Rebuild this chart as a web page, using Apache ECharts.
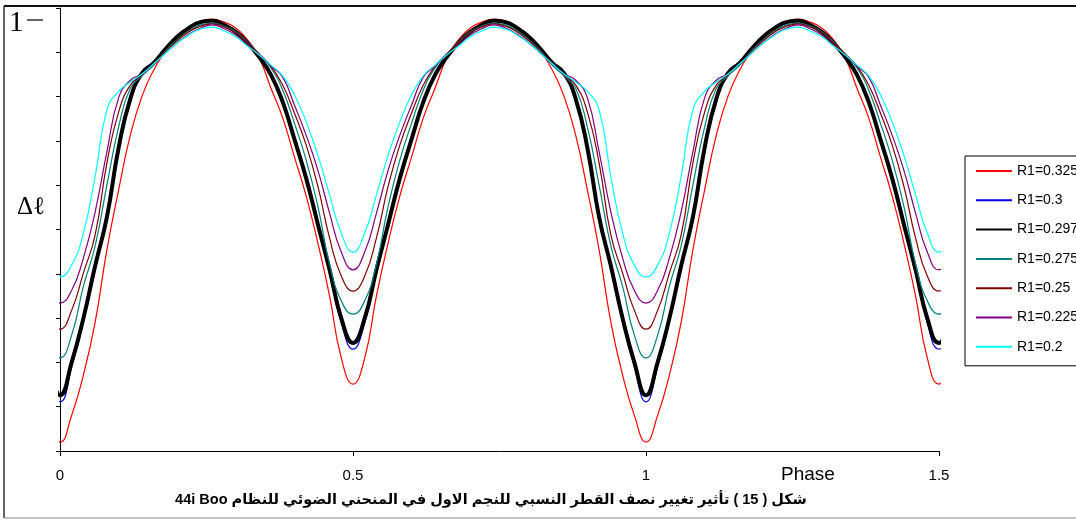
<!DOCTYPE html>
<html>
<head>
<meta charset="utf-8">
<script src="https://cdn.jsdelivr.net/npm/echarts@6/dist/echarts.min.js"></script>
<style>
  html, body { margin: 0; padding: 0; background: #fff; }
  #chart { width: 1076px; height: 521px; }
</style>
</head>
<body>
<div id="chart"></div>
<script>
// Orbital phase of each sample
const phase = [-0.01, 0, 0.02, 0.04, 0.06, 0.08, 0.10, 0.12, 0.14, 0.16, 0.18, 0.20, 0.22, 0.24, 0.26, 0.28, 0.30, 0.32, 0.34, 0.36, 0.38, 0.40, 0.42, 0.44, 0.46, 0.48, 0.50,
  0.52, 0.54, 0.56, 0.58, 0.60, 0.62, 0.64, 0.66, 0.68, 0.70, 0.72, 0.74, 0.76, 0.78, 0.80, 0.82, 0.84, 0.86, 0.88, 0.90, 0.92, 0.94, 0.96, 0.98, 1.00,
  1.02, 1.04, 1.06, 1.08, 1.10, 1.12, 1.14, 1.16, 1.18, 1.20, 1.22, 1.24, 1.26, 1.28, 1.30, 1.32, 1.34, 1.36, 1.38, 1.40, 1.42, 1.44, 1.46, 1.48, 1.50, 1.515];

// Synthetic light curves (relative flux) for each value of R1
const r0325 = [0.038, 0.020, 0.081, 0.172, 0.291, 0.454, 0.589, 0.713, 0.801, 0.860, 0.903, 0.937, 0.957, 0.971, 0.975, 0.968, 0.955, 0.928, 0.887, 0.819, 0.752, 0.664, 0.576, 0.470, 0.350, 0.210, 0.151,
  0.210, 0.350, 0.470, 0.576, 0.664, 0.752, 0.819, 0.887, 0.928, 0.955, 0.968, 0.975, 0.971, 0.957, 0.937, 0.903, 0.860, 0.801, 0.713, 0.589, 0.454, 0.291, 0.172, 0.081, 0.020,
  0.081, 0.172, 0.291, 0.454, 0.589, 0.713, 0.801, 0.860, 0.903, 0.937, 0.957, 0.971, 0.975, 0.968, 0.955, 0.928, 0.887, 0.819, 0.752, 0.664, 0.576, 0.470, 0.350, 0.210, 0.151, 0.176];

const r0300 = [0.124, 0.111, 0.190, 0.293, 0.411, 0.521, 0.677, 0.790, 0.851, 0.876, 0.907, 0.935, 0.955, 0.968, 0.971, 0.962, 0.946, 0.921, 0.889, 0.849, 0.788, 0.704, 0.614, 0.508, 0.402, 0.289, 0.230,
  0.289, 0.402, 0.508, 0.614, 0.704, 0.788, 0.849, 0.889, 0.921, 0.946, 0.962, 0.971, 0.968, 0.955, 0.935, 0.907, 0.876, 0.851, 0.790, 0.677, 0.521, 0.411, 0.293, 0.190, 0.111,
  0.190, 0.293, 0.411, 0.521, 0.677, 0.790, 0.851, 0.876, 0.907, 0.935, 0.955, 0.968, 0.971, 0.962, 0.946, 0.921, 0.889, 0.849, 0.788, 0.704, 0.614, 0.508, 0.402, 0.289, 0.230, 0.251];

const r0297 = [0.147, 0.126, 0.201, 0.300, 0.418, 0.528, 0.684, 0.795, 0.853, 0.876, 0.907, 0.935, 0.955, 0.968, 0.971, 0.962, 0.946, 0.921, 0.889, 0.849, 0.788, 0.704, 0.616, 0.512, 0.409, 0.300, 0.244,
  0.300, 0.409, 0.512, 0.616, 0.704, 0.788, 0.849, 0.889, 0.921, 0.946, 0.962, 0.971, 0.968, 0.955, 0.935, 0.907, 0.876, 0.853, 0.795, 0.684, 0.528, 0.418, 0.300, 0.201, 0.126,
  0.201, 0.300, 0.418, 0.528, 0.684, 0.795, 0.853, 0.876, 0.907, 0.935, 0.955, 0.968, 0.971, 0.962, 0.946, 0.921, 0.889, 0.849, 0.788, 0.704, 0.616, 0.512, 0.409, 0.300, 0.244, 0.273];

const r0275 = [0.226, 0.210, 0.262, 0.372, 0.463, 0.600, 0.731, 0.819, 0.847, 0.871, 0.903, 0.928, 0.948, 0.962, 0.966, 0.959, 0.946, 0.923, 0.896, 0.865, 0.815, 0.740, 0.657, 0.553, 0.422, 0.339, 0.309,
  0.339, 0.422, 0.553, 0.657, 0.740, 0.815, 0.865, 0.896, 0.923, 0.946, 0.959, 0.966, 0.962, 0.948, 0.928, 0.903, 0.871, 0.847, 0.819, 0.731, 0.600, 0.463, 0.372, 0.262, 0.210,
  0.262, 0.372, 0.463, 0.600, 0.731, 0.819, 0.847, 0.871, 0.903, 0.928, 0.948, 0.962, 0.966, 0.959, 0.946, 0.923, 0.896, 0.865, 0.815, 0.740, 0.657, 0.553, 0.422, 0.339, 0.309, 0.334];

const r0250 = [0.289, 0.275, 0.318, 0.402, 0.488, 0.650, 0.765, 0.826, 0.849, 0.874, 0.901, 0.926, 0.946, 0.959, 0.964, 0.957, 0.944, 0.921, 0.896, 0.869, 0.826, 0.763, 0.691, 0.598, 0.481, 0.395, 0.361,
  0.395, 0.481, 0.598, 0.691, 0.763, 0.826, 0.869, 0.896, 0.921, 0.944, 0.957, 0.964, 0.959, 0.946, 0.926, 0.901, 0.874, 0.849, 0.826, 0.765, 0.650, 0.488, 0.402, 0.318, 0.275,
  0.318, 0.402, 0.488, 0.650, 0.765, 0.826, 0.849, 0.874, 0.901, 0.926, 0.946, 0.959, 0.964, 0.957, 0.944, 0.921, 0.896, 0.869, 0.826, 0.763, 0.691, 0.598, 0.481, 0.395, 0.361, 0.381];

const r0225 = [0.348, 0.334, 0.363, 0.436, 0.540, 0.675, 0.797, 0.837, 0.851, 0.874, 0.898, 0.921, 0.941, 0.955, 0.962, 0.953, 0.939, 0.916, 0.894, 0.869, 0.844, 0.781, 0.713, 0.634, 0.537, 0.449, 0.409,
  0.449, 0.537, 0.634, 0.713, 0.781, 0.844, 0.869, 0.894, 0.916, 0.939, 0.953, 0.962, 0.955, 0.941, 0.921, 0.898, 0.874, 0.851, 0.837, 0.797, 0.675, 0.540, 0.436, 0.363, 0.334,
  0.363, 0.436, 0.540, 0.675, 0.797, 0.837, 0.851, 0.874, 0.898, 0.921, 0.941, 0.955, 0.962, 0.953, 0.939, 0.916, 0.894, 0.869, 0.844, 0.781, 0.713, 0.634, 0.537, 0.449, 0.409, 0.427];

const r0200 = [0.404, 0.393, 0.420, 0.492, 0.620, 0.770, 0.812, 0.833, 0.851, 0.874, 0.898, 0.921, 0.939, 0.953, 0.957, 0.948, 0.935, 0.914, 0.894, 0.871, 0.847, 0.804, 0.743, 0.668, 0.578, 0.492, 0.449,
  0.492, 0.578, 0.668, 0.743, 0.804, 0.847, 0.871, 0.894, 0.914, 0.935, 0.948, 0.957, 0.953, 0.939, 0.921, 0.898, 0.874, 0.851, 0.833, 0.812, 0.770, 0.620, 0.492, 0.420, 0.393,
  0.420, 0.492, 0.620, 0.770, 0.812, 0.833, 0.851, 0.874, 0.898, 0.921, 0.939, 0.953, 0.957, 0.948, 0.935, 0.914, 0.894, 0.871, 0.847, 0.804, 0.743, 0.668, 0.578, 0.492, 0.449, 0.470];

const seriesNames = ['R1=0.325', 'R1=0.3', 'R1=0.297', 'R1=0.275', 'R1=0.25', 'R1=0.225', 'R1=0.2'];
const seriesValues = [r0325, r0300, r0297, r0275, r0250, r0225, r0200];
const seriesColors = ['#FF0000', '#0000E0', '#000000', '#008080', '#800000', '#800080', '#00FFFF'];
const seriesWidths = [1.2, 1.2, 4, 1.2, 1.2, 1.2, 1.2];

const xTicks = [0, 0.5, 1, 1.5];
const captionText = 'شكل ( 15 ) تأثير تغيير نصف القطر النسبي للنجم الاول في المنحني الضوئي للنظام 44i Boo';

const chart = echarts.init(document.getElementById('chart'), null, { renderer: 'canvas' });

const series = seriesNames.map((name, i) => ({
  name,
  type: 'line',
  data: phase.map((p, k) => [p, seriesValues[i][k]]),
  showSymbol: false,
  symbol: 'none',
  smooth: 0.5,
  clip: false,
  lineStyle: { color: seriesColors[i], width: seriesWidths[i] },
  itemStyle: { color: seriesColors[i] },
  emphasis: { disabled: true }
}));

chart.setOption({
  animation: false,
  backgroundColor: '#ffffff',
  grid: { left: 60, top: 8, width: 879, height: 443, containLabel: false },
  xAxis: {
    type: 'value',
    min: 0,
    max: 1.5,
    interval: 0.5,
    axisLine: { show: true, onZero: false, lineStyle: { color: '#000', width: 1 } },
    axisTick: { show: true, inside: false, length: 5, lineStyle: { color: '#000' } },
    axisLabel: {
      margin: 17,
      color: '#000',
      fontSize: 15,
      fontFamily: 'Arial, "Liberation Sans", sans-serif',
      formatter: v => (xTicks.indexOf(v) >= 0 ? String(v) : '')
    },
    splitLine: { show: false }
  },
  yAxis: {
    type: 'value',
    min: 0,
    max: 1,
    interval: 0.1,
    axisLine: { show: true, onZero: false, lineStyle: { color: '#000', width: 1 } },
    axisTick: { show: true, inside: false, length: 4, lineStyle: { color: '#000' } },
    axisLabel: { show: false },
    splitLine: { show: false }
  },
  legend: {
    orient: 'vertical',
    left: 965,
    top: 156,
    padding: [8, 10, 12, 10],
    itemWidth: 36,
    itemHeight: 14,
    itemGap: 15.3,
    borderColor: '#000',
    borderWidth: 1,
    backgroundColor: '#fff',
    selectedMode: false,
    itemStyle: { opacity: 0 },
    textStyle: { color: '#000', fontSize: 14, lineHeight: 14, fontFamily: 'Arial, "Liberation Sans", sans-serif' },
    data: seriesNames
  },
  graphic: [
    // outer frame
    { type: 'line', shape: { x1: 4, y1: 6, x2: 1076, y2: 6 }, style: { stroke: '#111', lineWidth: 2 } },
    { type: 'line', shape: { x1: 4, y1: 6, x2: 4, y2: 518 }, style: { stroke: '#333', lineWidth: 1.5 } },
    { type: 'line', shape: { x1: 4, y1: 518, x2: 1076, y2: 518 }, style: { stroke: '#888', lineWidth: 1 } },
    // top value mark
    { type: 'text', left: 9, top: 9, style: { text: '1', fill: '#000', font: '29px "Liberation Serif", "DejaVu Serif", serif' } },
    { type: 'line', shape: { x1: 27, y1: 20, x2: 43, y2: 20 }, style: { stroke: '#000', lineWidth: 1.2 } },
    // vertical axis symbol
    { type: 'text', left: 17, top: 195, style: { text: 'Δℓ', fill: '#000', font: '25px "Liberation Serif", "DejaVu Serif", serif' } },
    // horizontal axis title
    { type: 'text', left: 781, top: 465, style: { text: 'Phase', fill: '#000', font: '19px Arial, "Liberation Sans", sans-serif' } },
    // figure caption
    { type: 'text', x: 491, y: 500, style: { text: '\u202B' + captionText + '\u202C', fill: '#000', align: 'center', verticalAlign: 'middle', font: 'bold 14.5px Arial, "Liberation Sans", "DejaVu Sans", sans-serif' } }
  ],
  series
});
</script>
</body>
</html>
